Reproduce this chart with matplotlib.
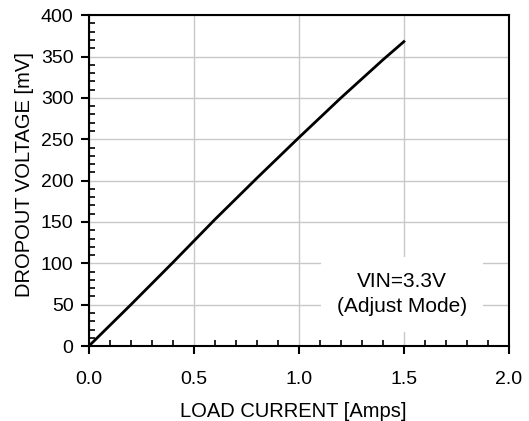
import numpy as np
import matplotlib.pyplot as plt
from matplotlib.patches import Rectangle
from matplotlib.ticker import MultipleLocator

plt.rcParams['font.family'] = ['Liberation Sans', 'DejaVu Sans']

# dropout voltage vs load current
load_current = [0.0, 0.2, 0.4, 0.6, 0.8, 1.0, 1.2, 1.4, 1.5]
dropout_mv = [0, 50, 101, 153, 203, 252, 300, 346, 368]

x_ticks = [0.0, 0.5, 1.0, 1.5, 2.0]
y_ticks = [0, 50, 100, 150, 200, 250, 300, 350, 400]
note = "VIN=3.3V\n(Adjust Mode)"

fig = plt.figure(figsize=(5.29, 4.21), dpi=100)
ax = fig.add_axes([0.168, 0.178, 0.794, 0.786])

ax.plot(load_current, dropout_mv, color='black', lw=2.0, zorder=3)

ax.set_xlim(0, 2.0)
ax.set_ylim(0, 400)
ax.set_xticks(x_ticks)
ax.set_yticks(y_ticks)
ax.set_xticklabels([f"{v:.1f}" for v in x_ticks])
ax.xaxis.set_minor_locator(MultipleLocator(0.1))
ax.yaxis.set_minor_locator(MultipleLocator(10))

ax.grid(True, which='major', color='#c8c8c8', lw=1.0, zorder=0)
ax.set_axisbelow(True)

for s in ax.spines.values():
    s.set_linewidth(1.5)

ax.tick_params(which='major', direction='out', length=6, width=1.5, labelsize=14)
ax.tick_params(which='minor', direction='in', length=4, width=1.2)
ax.tick_params(axis='y', which='major', pad=5)
ax.tick_params(axis='x', which='major', pad=12)

ax.set_xlabel('LOAD CURRENT [Amps]', fontsize=14.5, labelpad=10)
ax.set_ylabel('DROPOUT VOLTAGE [mV]', fontsize=14.5, labelpad=5)
ax.xaxis.label.set_x(0.486)
ax.yaxis.label.set_y(0.517)

# white box behind the note, hiding the grid
ax.add_patch(Rectangle((1.105, 17), 0.77, 91, facecolor='white', edgecolor='none', zorder=2))
ax.text(1.49, 63, note, ha='center', va='center', fontsize=15, linespacing=1.35, zorder=4)

plt.savefig('out.png', dpi=100)
